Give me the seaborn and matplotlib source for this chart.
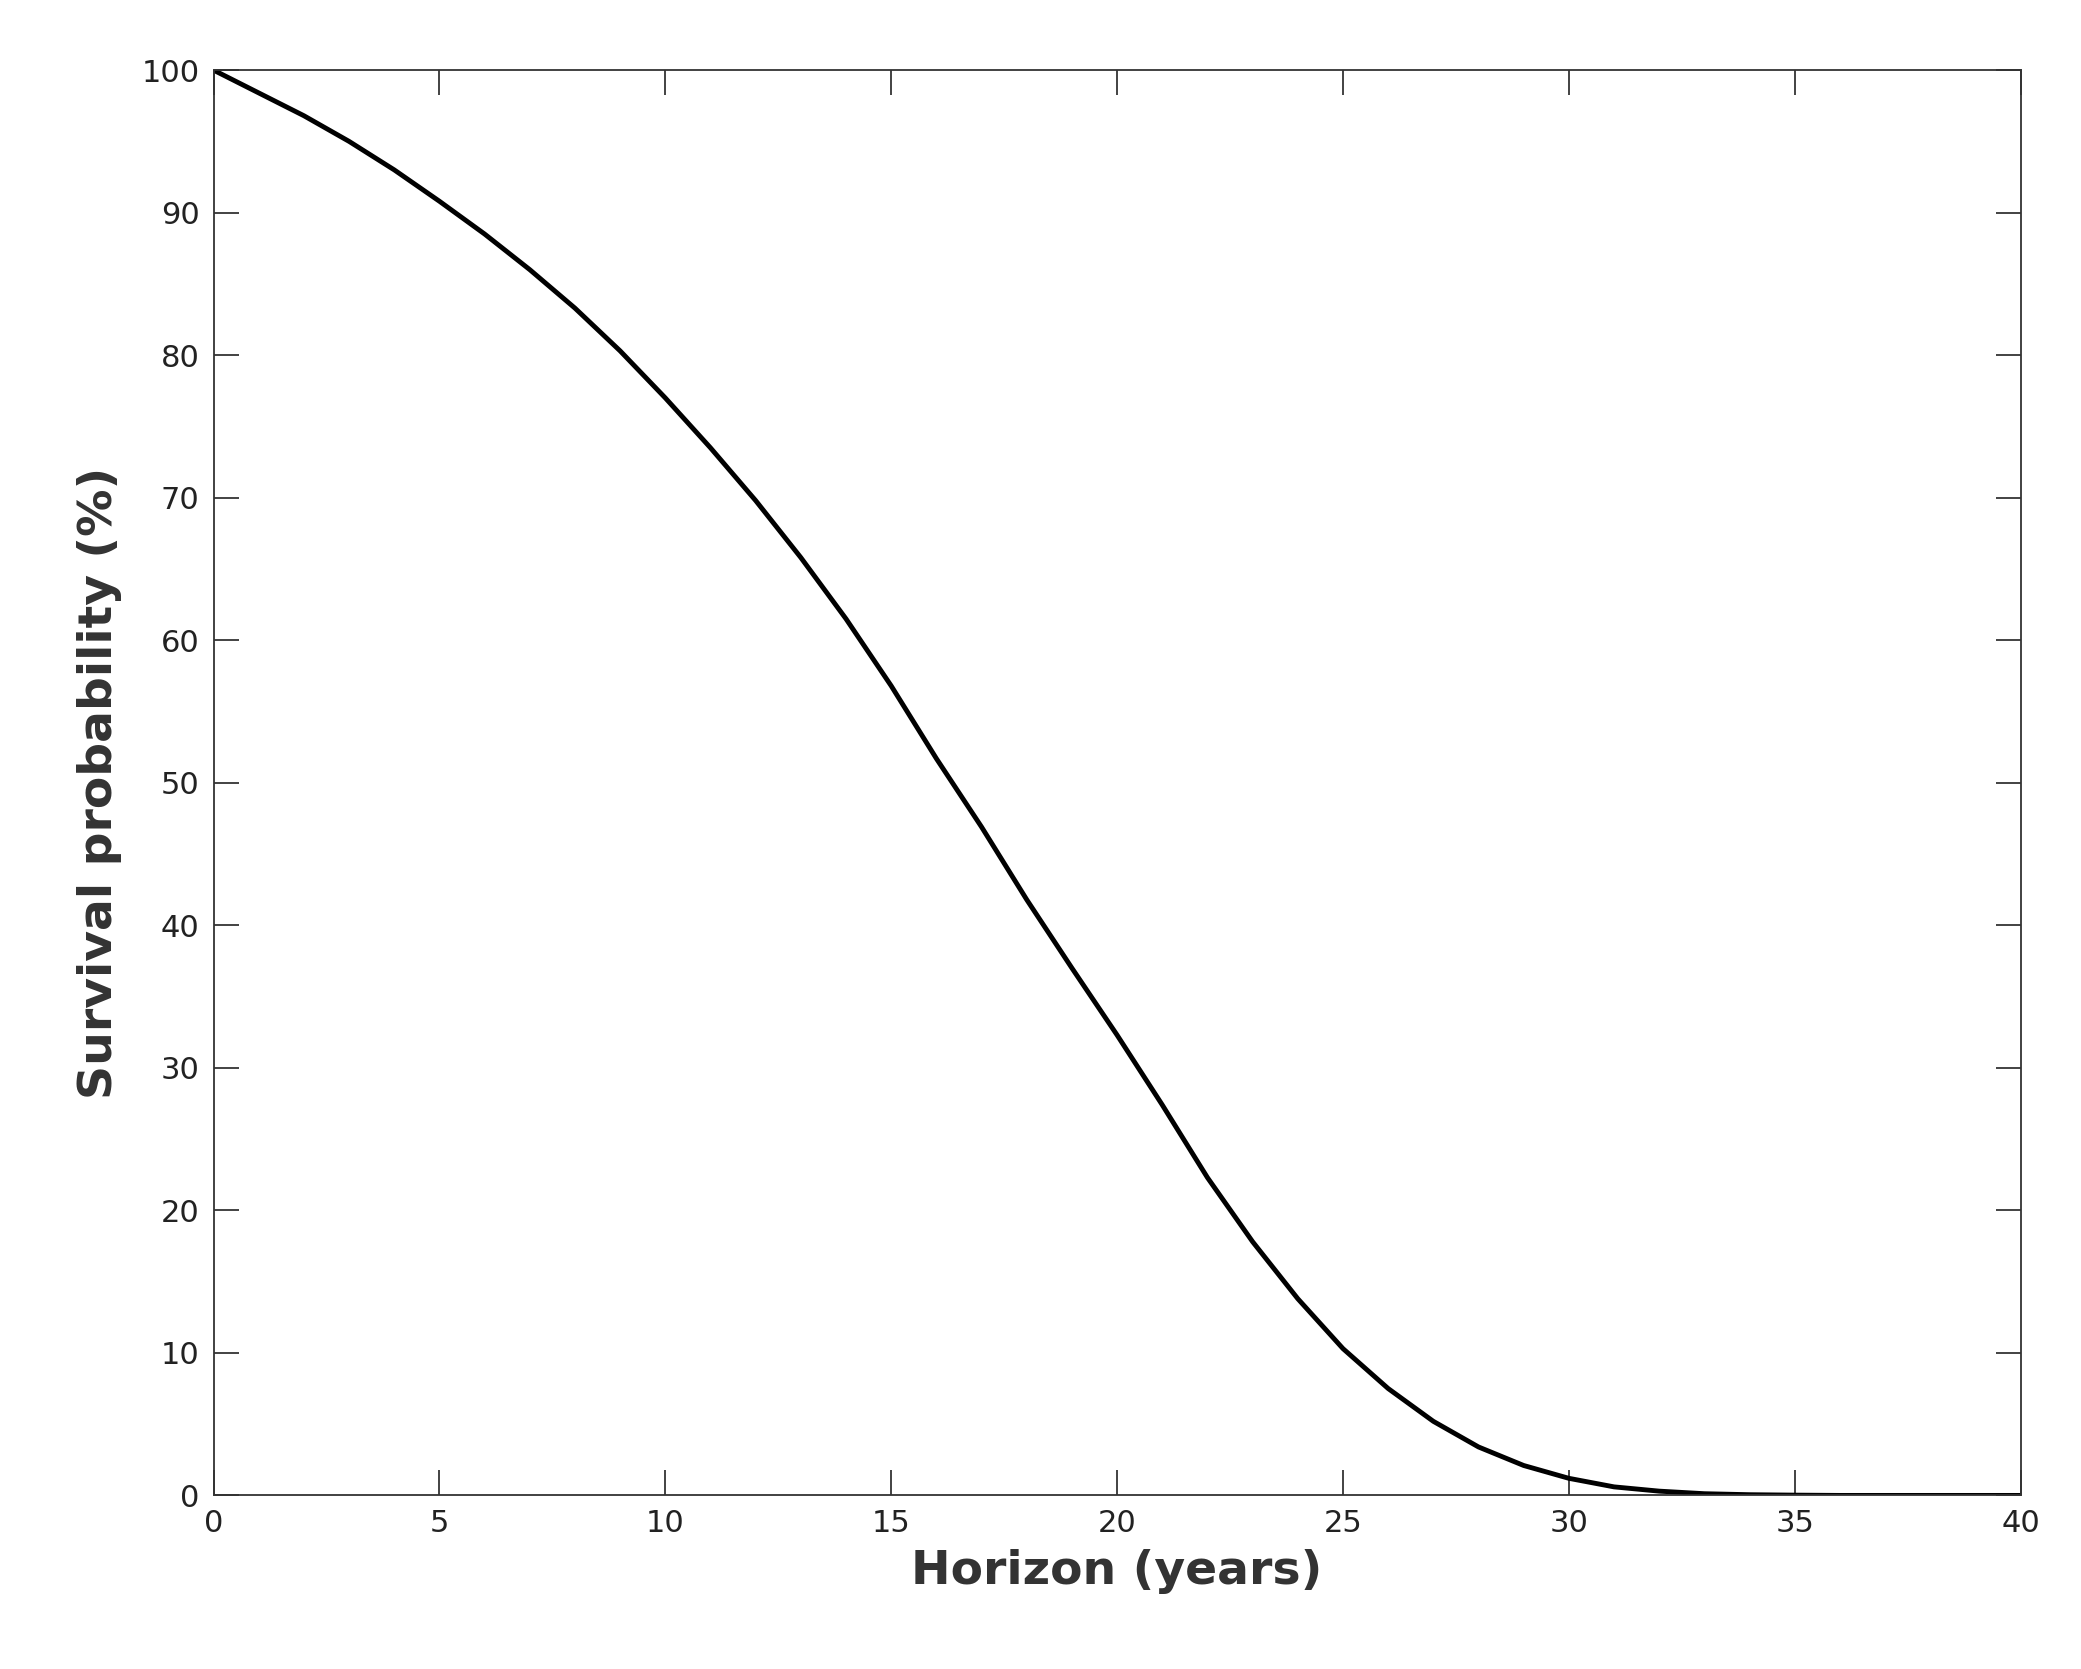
import matplotlib
matplotlib.use("Agg")
import matplotlib.pyplot as plt
import seaborn as sns
import pandas as pd

# survival curve, one point per year
years = list(range(0, 41))
survival = [100, 98.4, 96.8, 95.0, 93.0, 90.8, 88.5, 86.0, 83.3, 80.3,
            77.0, 73.5, 69.8, 65.8, 61.5, 56.8, 51.7, 46.9, 41.8, 37.0,
            32.3, 27.4, 22.3, 17.8, 13.8, 10.3, 7.5, 5.2, 3.4, 2.1,
            1.2, 0.6, 0.3, 0.12, 0.05, 0.02, 0, 0, 0, 0, 0]

df = pd.DataFrame({"Horizon": years, "Survival": survival})

sns.set_style("ticks")
plt.rcParams["font.family"] = ["DejaVu Sans"]

fig = plt.figure(figsize=(20.81, 16.69), dpi=100)
ax = fig.add_axes([0.1026, 0.104, 0.8684, 0.854])
sns.lineplot(data=df, x="Horizon", y="Survival", color="black", linewidth=3.5, ax=ax)

ax.set_xlim(0, 40)
ax.set_ylim(0, 100)
ax.set_xticks(range(0, 41, 5))
ax.set_yticks(range(0, 101, 10))
ax.tick_params(direction="in", length=18, width=1.2, top=True, right=True,
               labelsize=22, colors="#222222", pad=10)
for s in ax.spines.values():
    s.set_visible(True)
    s.set_linewidth(1.3)
    s.set_color("#333333")
ax.set_xlabel("Horizon (years)", fontsize=34, fontweight="bold", color="#333333", labelpad=8)
ax.set_ylabel("Survival probability (%)", fontsize=34, fontweight="bold", color="#333333", labelpad=14)

fig.savefig("out.png", dpi=100)
plt.close(fig)
